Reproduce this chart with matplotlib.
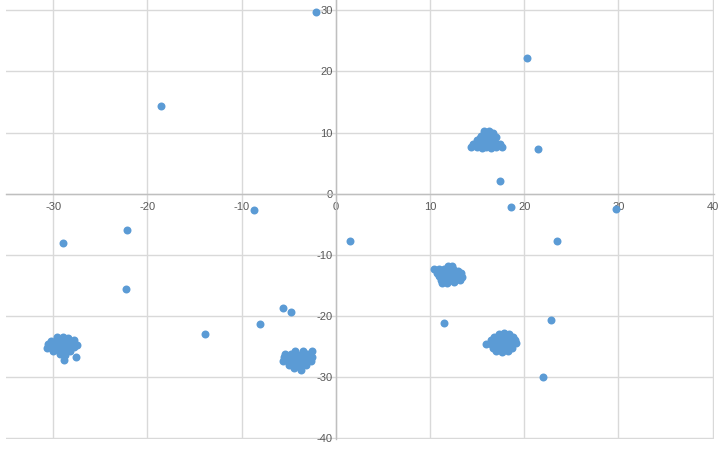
import matplotlib.pyplot as plt

plt.rcParams["axes.unicode_minus"] = False

# scattered single points
lone_x = [-2.1, -18.5, -8.7, 20.3, 21.5, 17.4, 18.6, 29.7, -28.9, -22.2, -22.3,
          -13.9, -8.0, -5.6, -4.8, 1.5, 23.5, 11.5, 22.9, 22.0, -27.6, -28.8]
lone_y = [29.7, 14.4, -2.6, 22.2, 7.3, 2.0, -2.2, -2.5, -8.1, -5.9, -15.6,
          -23.0, -21.4, -18.7, -19.3, -7.8, -7.8, -21.2, -20.7, -30.0, -26.8, -27.3]

# cluster near (16, 8.5)
c1_x = [14.4, 15.0, 15.5, 16.0, 16.5, 17.0, 17.6,
        14.6, 15.2, 15.8, 16.4, 17.0, 17.4,
        15.0, 15.6, 16.2, 16.8,
        15.4, 16.0, 16.6, 17.0,
        15.7, 16.3, 16.7,
        15.3, 15.9, 16.5, 16.3]
c1_y = [7.7, 7.6, 7.5, 7.6, 7.5, 7.6, 7.7,
        8.2, 8.2, 8.2, 8.2, 8.2, 8.2,
        8.8, 8.8, 8.8, 8.8,
        9.4, 9.4, 9.4, 9.3,
        10.3, 10.3, 9.9,
        9.1, 9.1, 9.1, 9.8]

# cluster near (12, -13.3)
c2_x = [10.4, 11.0, 11.5, 12.0, 12.5, 13.0,
        11.9, 12.3,
        10.7, 11.3, 11.8, 12.3, 12.8, 13.3,
        11.0, 11.5, 12.0, 12.5, 13.0, 13.4,
        11.2, 11.7, 12.2, 12.7, 13.2,
        11.3, 11.8, 12.6]
c2_y = [-12.3, -12.4, -12.4, -12.3, -12.4, -12.6,
        -11.8, -11.9,
        -12.9, -12.9, -12.9, -12.9, -12.9, -13.0,
        -13.5, -13.5, -13.5, -13.5, -13.5, -13.6,
        -14.1, -14.1, -14.1, -14.1, -14.1,
        -14.6, -14.6, -14.5]

# cluster near (17.7, -24.3)
c3_x = [17.3, 17.9, 18.4,
        16.8, 17.3, 17.8, 18.3, 18.8,
        16.5, 17.0, 17.5, 18.0, 18.5, 19.0,
        16.0, 16.5, 17.0, 17.5, 18.0, 18.5, 19.1,
        16.7, 17.2, 17.7, 18.2, 18.7,
        17.0, 17.6, 18.3]
c3_y = [-22.9, -22.8, -22.9,
        -23.4, -23.4, -23.4, -23.4, -23.4,
        -24.0, -24.0, -24.0, -24.0, -24.0, -24.0,
        -24.6, -24.6, -24.6, -24.6, -24.6, -24.6, -24.5,
        -25.2, -25.2, -25.2, -25.2, -25.2,
        -25.8, -25.9, -25.7]

# cluster near (-29, -24.7)
c4_x = [-29.6, -29.0, -28.4,
        -30.2, -29.6, -29.0, -28.4, -27.8,
        -30.5, -30.0, -29.4, -28.8, -28.2, -27.5,
        -30.6, -30.1, -29.5, -28.9, -28.3, -27.8,
        -30.0, -29.4, -28.8, -28.2,
        -29.3, -28.7]
c4_y = [-23.5, -23.5, -23.6,
        -24.1, -24.1, -24.1, -24.1, -24.0,
        -24.6, -24.6, -24.6, -24.6, -24.6, -24.7,
        -25.2, -25.2, -25.2, -25.2, -25.2, -25.1,
        -25.8, -25.8, -25.8, -25.7,
        -26.3, -26.4]

# cluster near (-4.1, -27)
c5_x = [-4.3, -3.5, -2.5,
        -5.4, -4.8, -4.2, -3.6, -3.0,
        -5.5, -4.9, -4.3, -3.7, -3.1, -2.5,
        -5.6, -5.0, -4.4, -3.8, -3.2, -2.6,
        -5.0, -4.4, -3.8, -3.2,
        -4.4, -3.7]
c5_y = [-25.7, -25.7, -25.8,
        -26.2, -26.2, -26.2, -26.2, -26.2,
        -26.8, -26.8, -26.8, -26.8, -26.8, -26.8,
        -27.4, -27.4, -27.4, -27.4, -27.4, -27.4,
        -28.0, -28.0, -28.0, -28.0,
        -28.5, -28.9]

x_ticks = [-30, -20, -10, 0, 10, 20, 30, 40]
y_ticks = [-40, -30, -20, -10, 0, 10, 20, 30]

fig = plt.figure(figsize=(7.21, 4.49), dpi=100)
ax = fig.add_axes([6 / 721, 10 / 449, (713.5 - 6) / 721, 439 / 449])

xs = lone_x + c1_x + c2_x + c3_x + c4_x + c5_x
ys = lone_y + c1_y + c2_y + c3_y + c4_y + c5_y
ax.scatter(xs, ys, s=33, color="#5B9BD5", linewidths=0, zorder=2)

ax.set_xlim(-35, 40.1)
ax.set_ylim(-40.15, 31.7)
ax.set_xticks(x_ticks)
ax.set_yticks(y_ticks)
ax.grid(True, color="#D9D9D9", lw=1)
ax.set_axisbelow(True)

for side in ["top", "right"]:
    ax.spines[side].set_visible(False)
ax.spines["left"].set_position(("data", 0))
ax.spines["bottom"].set_position(("data", 0))
for side in ["left", "bottom"]:
    ax.spines[side].set_color("#BFBFBF")
    ax.spines[side].set_linewidth(1)

ax.tick_params(axis="both", length=0, labelsize=8, labelcolor="#595959")
ax.tick_params(axis="x", pad=6)
ax.tick_params(axis="y", pad=2)
for lbl in ax.get_xticklabels() + ax.get_yticklabels():
    lbl.set_fontfamily("Liberation Sans")
    lbl.set_zorder(5)

fig.savefig("out.png", dpi=100)
